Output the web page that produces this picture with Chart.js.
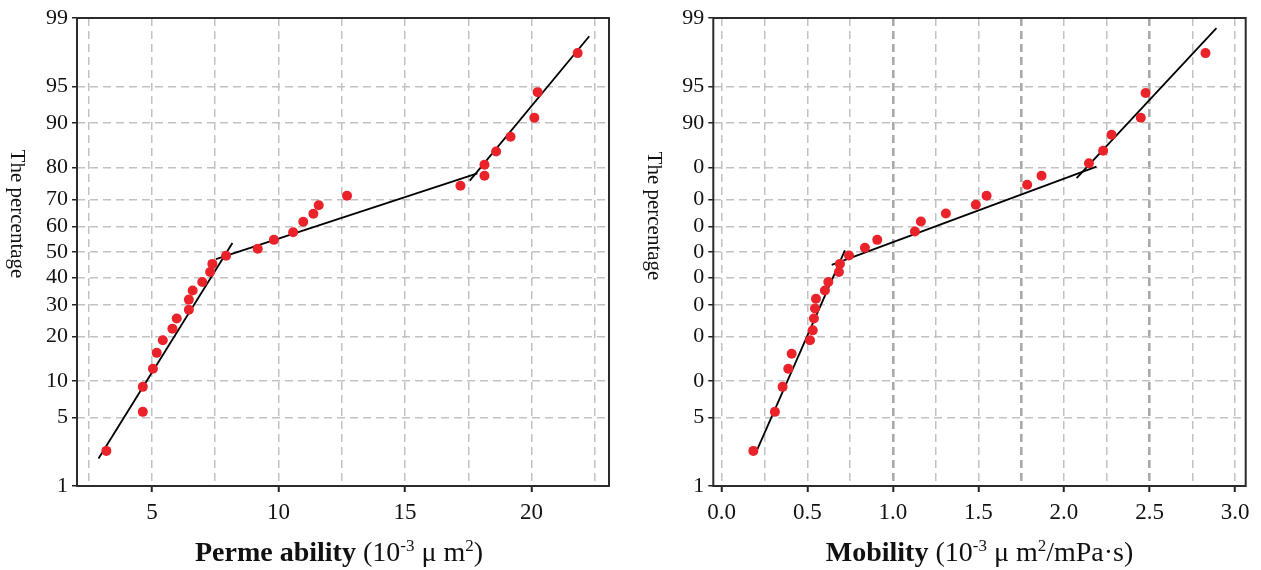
<!DOCTYPE html>
<html>
<head>
<meta charset="utf-8">
<script src="https://cdn.jsdelivr.net/npm/chart.js@4.4.1/dist/chart.umd.min.js"></script>
<style>
  html, body { margin: 0; padding: 0; background: #fff; }
  #wrap { position: relative; width: 1261px; height: 570px; }
  .box { position: absolute; top: 0; height: 570px; }
  #left { left: 0; width: 630px; }
  #right { left: 630px; width: 631px; }
</style>
</head>
<body>
<div id="wrap">
  <div class="box" id="left"><canvas id="permChart" width="630" height="570"></canvas></div>
  <div class="box" id="right"><canvas id="mobChart" width="631" height="570"></canvas></div>
</div>
<script>
// cumulative percentage, drawn on a probability (probit) axis
const percentTicks = [1, 5, 10, 20, 30, 40, 50, 60, 70, 80, 90, 95, 99];
const permYLabels = ['1', '5', '10', '20', '30', '40', '50', '60', '70', '80', '90', '95', '99'];
const mobYLabels = ['1', '5', '0', '0', '0', '0', '0', '0', '0', '0', '90', '95', '99'];

// x grid positions and the labels shown under them
const permXGrid = [2.5, 5, 7.5, 10, 12.5, 15, 17.5, 20, 22.5];
const permXLabels = ['', '5', '', '10', '', '15', '', '20', ''];
const mobXGrid = [0, 0.25, 0.5, 0.75, 1, 1.25, 1.5, 1.75, 2, 2.25, 2.5, 2.75, 3];
const mobXLabels = ['0.0', '', '0.5', '', '1.0', '', '1.5', '', '2.0', '', '2.5', '', '3.0'];

// permeability samples (10^-3 um2) and their cumulative percentage
const permX = [3.20, 4.64, 4.64, 5.04, 5.19, 5.43, 5.81, 5.98, 6.46, 6.46,
               6.61, 6.99, 7.30, 7.39, 7.93, 9.18, 9.82, 10.58, 10.98, 11.38,
               11.59, 12.71, 17.19, 18.14, 18.14, 18.60, 19.17, 20.11, 20.24, 21.82];
const permPct = [2.4, 5.6, 9.0, 12.3, 15.8, 19.0, 22.3, 25.4, 28.3, 31.8,
                 35.1, 38.3, 42.1, 45.3, 48.5, 51.3, 54.8, 57.8, 61.8, 64.8,
                 67.9, 71.2, 74.5, 77.6, 80.7, 84.1, 87.4, 90.9, 94.4, 97.6];
// fitted straight segments (start, end)
const permFitX = [[2.89, 8.18], [7.53, 17.86], [17.56, 22.28]];
const permFitPct = [[2.0, 53.6], [47.2, 78.3], [76.1, 98.4]];

// mobility samples (10^-3 um2/mPa.s)
const mobX = [0.185, 0.311, 0.356, 0.389, 0.409, 0.516, 0.532, 0.539, 0.545, 0.551,
              0.603, 0.623, 0.685, 0.691, 0.744, 0.837, 0.909, 1.129, 1.164, 1.310,
              1.485, 1.548, 1.785, 1.869, 2.146, 2.229, 2.278, 2.449, 2.477, 2.827];
const mobPct = [2.4, 5.6, 9.0, 12.3, 15.6, 19.0, 21.8, 25.4, 28.7, 32.1,
                35.1, 38.3, 42.1, 45.3, 48.6, 51.7, 54.8, 58.1, 61.9, 64.9,
                68.1, 71.2, 74.8, 77.6, 81.1, 84.3, 87.8, 90.9, 94.3, 97.6];
const mobFitX = [[0.20, 0.72], [0.643, 2.19], [2.074, 2.891]];
const mobFitPct = [[2.3, 50.6], [44.9, 80.2], [76.9, 98.7]];

// inverse normal CDF (Acklam)
function probit(p) {
  const a = [-3.969683028665376e+01, 2.209460984245205e+02, -2.759285104469687e+02, 1.383577518672690e+02, -3.066479806614716e+01, 2.506628277459239e+00];
  const b = [-5.447609879822406e+01, 1.615858368580409e+02, -1.556989798598866e+02, 6.680131188771972e+01, -1.328068155288572e+01];
  const c = [-7.784894002430293e-03, -3.223964580411365e-01, -2.400758277161838e+00, -2.549732539343734e+00, 4.374664141464968e+00, 2.938163982698783e+00];
  const d = [7.784695709041462e-03, 3.224671290700398e-01, 2.445134137142996e+00, 3.754408661907416e+00];
  const pl = 0.02425;
  let q, r;
  if (p < pl) {
    q = Math.sqrt(-2 * Math.log(p));
    return (((((c[0]*q+c[1])*q+c[2])*q+c[3])*q+c[4])*q+c[5]) / ((((d[0]*q+d[1])*q+d[2])*q+d[3])*q+1);
  }
  if (p > 1 - pl) {
    q = Math.sqrt(-2 * Math.log(1 - p));
    return -(((((c[0]*q+c[1])*q+c[2])*q+c[3])*q+c[4])*q+c[5]) / ((((d[0]*q+d[1])*q+d[2])*q+d[3])*q+1);
  }
  q = p - 0.5; r = q * q;
  return (((((a[0]*r+a[1])*r+a[2])*r+a[3])*r+a[4])*r+a[5])*q / (((((b[0]*r+b[1])*r+b[2])*r+b[3])*r+b[4])*r+1);
}

class ProbitScale extends Chart.LinearScale {
  buildTicks() {
    this.start = this.min;
    this.end = this.max;
    return percentTicks.map(v => ({ value: v }));
  }
  _dec(v) {
    const z0 = probit(this.min / 100), z1 = probit(this.max / 100);
    return (probit(v / 100) - z0) / (z1 - z0);
  }
  getPixelForValue(value) {
    return this.getPixelForDecimal(this._dec(value));
  }
  getValueForPixel(pixel) {
    const t = this.getDecimalForPixel(pixel);
    let lo = this.min, hi = this.max;
    for (let i = 0; i < 40; i++) {
      const mid = (lo + hi) / 2;
      if (this._dec(mid) < t) lo = mid; else hi = mid;
    }
    return (lo + hi) / 2;
  }
}
ProbitScale.id = 'probit';
ProbitScale.defaults = Chart.LinearScale.defaults;
Chart.register(ProbitScale);

const serif = '"Liberation Serif", "Times New Roman", serif';

function makeFrame(cfg) {
  return {
    id: 'frame' + cfg.id,
    afterDraw(chart) {
      const ctx = chart.ctx, a = chart.chartArea;
      ctx.save();
      ctx.strokeStyle = '#2b2b2b';
      ctx.lineWidth = 2;
      ctx.strokeRect(a.left, a.top, a.right - a.left, a.bottom - a.top);

      // y title, rotated
      ctx.fillStyle = '#111';
      ctx.font = '21px ' + serif;
      ctx.translate(cfg.yTitleX, cfg.yTitleY);
      ctx.rotate(Math.PI / 2);
      ctx.textAlign = 'center';
      ctx.textBaseline = 'middle';
      ctx.fillText('The percentage', 0, 0);
      ctx.restore();

      // x title with bold part and superscripts
      ctx.save();
      ctx.fillStyle = '#111';
      ctx.textAlign = 'left';
      ctx.textBaseline = 'alphabetic';
      let w = 0;
      cfg.xTitle.forEach(p => { ctx.font = p.font; w += ctx.measureText(p.text).width; });
      let x = (a.left + a.right) / 2 + cfg.xTitleShift - w / 2;
      cfg.xTitle.forEach(p => {
        ctx.font = p.font;
        ctx.fillText(p.text, x, 561 - (p.rise || 0));
        x += ctx.measureText(p.text).width;
      });
      ctx.restore();
    }
  };
}

const bold = 'bold 28px ' + serif;
const norm = '28px ' + serif;
const sup = '17px ' + serif;

function buildChart(canvasId, cfg) {
  const datasets = [{
    data: cfg.xs.map((x, i) => ({ x: x, y: cfg.pct[i] })),
    backgroundColor: '#ea2229',
    borderWidth: 0,
    pointRadius: 5,
    pointHoverRadius: 5
  }];
  cfg.fitX.forEach((seg, k) => {
    datasets.push({
      data: seg.map((x, i) => ({ x: x, y: cfg.fitPct[k][i] })),
      showLine: true,
      borderColor: '#000',
      borderWidth: 1.8,
      pointRadius: 0,
      fill: false
    });
  });

  return new Chart(document.getElementById(canvasId), {
    type: 'scatter',
    data: { datasets: datasets },
    options: {
      responsive: false,
      animation: false,
      layout: { padding: { top: 18, right: cfg.padRight, left: 0, bottom: 0 } },
      plugins: { legend: { display: false }, tooltip: { enabled: false } },
      scales: {
        x: {
          type: 'linear',
          min: cfg.xMin,
          max: cfg.xMax,
          afterBuildTicks: s => { s.ticks = cfg.xGrid.map(v => ({ value: v })); },
          afterFit: s => { s.height = 84; },
          ticks: {
            callback: (v, i) => cfg.xLabels[i],
            font: { family: serif, size: 23 },
            color: '#111',
            padding: 7,
            maxRotation: 0,
            autoSkip: false
          },
          grid: {
            color: c => cfg.heavy.includes(c.tick && c.tick.value) ? '#a9a9a9' : '#c2c2c2',
            lineWidth: c => cfg.heavy.includes(c.tick && c.tick.value) ? 2.6 : 1.5,
            tickLength: 6,
            tickWidth: 2,
            tickColor: c => cfg.xLabels[c.index] ? '#222' : 'rgba(0,0,0,0)'
          },
          border: { display: false, dash: [8, 5] }
        },
        y: {
          type: 'probit',
          min: 1,
          max: 99,
          afterFit: s => { s.width = cfg.yWidth; },
          ticks: {
            callback: (v, i) => cfg.yLabels[i],
            font: { family: serif, size: 22 },
            color: '#111',
            padding: 4,
            autoSkip: false
          },
          grid: {
            color: '#c2c2c2',
            lineWidth: 1.5,
            tickLength: 5,
            tickWidth: 1.5,
            tickColor: '#222'
          },
          border: { display: false, dash: [8, 5] }
        }
      }
    },
    plugins: [makeFrame(cfg)]
  });
}

buildChart('permChart', {
  id: 'perm',
  xs: permX, pct: permPct, fitX: permFitX, fitPct: permFitPct,
  xMin: 2.04, xMax: 23.06, xGrid: permXGrid, xLabels: permXLabels,
  yLabels: permYLabels, yWidth: 77, padRight: 21, heavy: [],
  yTitleX: 17, yTitleY: 214, xTitleShift: -4,
  xTitle: [
    { text: 'Perme ability', font: bold },
    { text: ' (10', font: norm },
    { text: '-3', font: sup, rise: 10 },
    { text: ' \u03bc m', font: norm },
    { text: '2', font: sup, rise: 10 },
    { text: ')', font: norm }
  ]
});

buildChart('mobChart', {
  id: 'mob',
  xs: mobX, pct: mobPct, fitX: mobFitX, fitPct: mobFitPct,
  xMin: -0.049, xMax: 3.062, xGrid: mobXGrid, xLabels: mobXLabels,
  yLabels: mobYLabels, yWidth: 83.3, padRight: 15.3, heavy: [1, 1.75, 2.5],
  yTitleX: 24, yTitleY: 216, xTitleShift: 0,
  xTitle: [
    { text: 'Mobility', font: bold },
    { text: ' (10', font: norm },
    { text: '-3', font: sup, rise: 10 },
    { text: ' \u03bc m', font: norm },
    { text: '2', font: sup, rise: 10 },
    { text: '/mPa\u00b7s)', font: norm }
  ]
});
</script>
</body>
</html>
